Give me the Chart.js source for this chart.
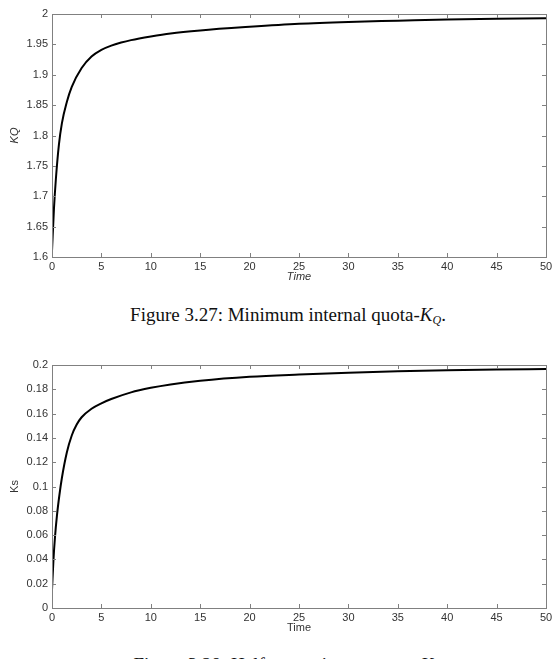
<!DOCTYPE html>
<html>
<head>
<meta charset="utf-8">
<script src="https://cdn.jsdelivr.net/npm/chart.js@4"></script>
<style>
  body { margin: 0; background: #fff; width: 557px; height: 659px; overflow: hidden; position: relative; }
  .box { position: absolute; left: 0; width: 557px; height: 290px; }
  .cap { position: absolute; left: 0; width: 576px; text-align: center;
         font-family: "Liberation Serif", serif; font-size: 19px; color: #111; white-space: nowrap; }
  .cap i { font-style: italic; }
  .cap sub { font-size: 12px; font-style: italic; vertical-align: -3px; }
</style>
</head>
<body>
<div class="box" style="top:0"><canvas id="kq"></canvas></div>
<div class="cap" style="top:304px">Figure 3.27: Minimum internal quota-<i>K</i><sub>Q</sub>.</div>
<div class="box" style="top:351px"><canvas id="ks"></canvas></div>
<div class="cap" style="top:654px">Figure 3.28: Half-saturation constant-<i>K</i><sub>s</sub>.</div>
<script>
// KQ curve
const kqTime = [0, 0.2, 0.4, 0.7, 1, 1.5, 2, 3, 4, 5, 6, 7, 8, 10, 12, 15, 20, 25, 30, 35, 40, 45, 50];
const kqValues = [1.61, 1.68, 1.73, 1.785, 1.82, 1.855, 1.88, 1.911, 1.930, 1.941, 1.948, 1.953, 1.957, 1.963, 1.968, 1.973, 1.979, 1.984, 1.987, 1.989, 1.991, 1.992, 1.993];

// Ks curve
const ksTime = [0, 0.15, 0.3, 0.5, 0.75, 1, 1.5, 2, 2.5, 3, 4, 5, 6, 8, 10, 12, 15, 20, 25, 30, 35, 40, 45, 50];
const ksValues = [0.015, 0.04, 0.058, 0.076, 0.093, 0.107, 0.128, 0.142, 0.151, 0.157, 0.164, 0.1685, 0.172, 0.1775, 0.1812, 0.184, 0.187, 0.1903, 0.1922, 0.1937, 0.1948, 0.1956, 0.1962, 0.1967];

const axisColor = '#808080';
const labelColor = '#333';

// draws the box and the inward (matlab style) tick marks
const boxTicks = {
    id: 'boxTicks',
    afterDraw(chart) {
        const ctx = chart.ctx;
        const a = chart.chartArea;
        const xs = chart.scales.x, ys = chart.scales.y;
        ctx.save();
        ctx.strokeStyle = axisColor;
        ctx.lineWidth = 1;
        ctx.strokeRect(Math.round(a.left) + 0.5, Math.round(a.top) + 0.5,
                       Math.round(a.right - a.left), Math.round(a.bottom - a.top));
        ctx.beginPath();
        xs.ticks.forEach(t => {
            const px = Math.round(xs.getPixelForValue(t.value)) + 0.5;
            ctx.moveTo(px, a.bottom); ctx.lineTo(px, a.bottom - 4);
            ctx.moveTo(px, a.top); ctx.lineTo(px, a.top + 4);
        });
        ys.ticks.forEach(t => {
            const py = Math.round(ys.getPixelForValue(t.value)) + 0.5;
            ctx.moveTo(a.left, py); ctx.lineTo(a.left + 4, py);
            ctx.moveTo(a.right, py); ctx.lineTo(a.right - 4, py);
        });
        ctx.stroke();
        ctx.restore();
    }
};

function fmt(v) {
    return String(Math.round(v * 100) / 100);
}

function makeChart(id, times, values, yMin, yMax, yStep, yTitle, italic) {
    const points = times.map((t, i) => ({ x: t, y: values[i] }));
    return new Chart(document.getElementById(id), {
        type: 'line',
        data: {
            datasets: [{
                data: points,
                borderColor: '#000',
                borderWidth: 2,
                pointRadius: 0,
                fill: false,
                cubicInterpolationMode: 'monotone'
            }]
        },
        options: {
            responsive: true,
            maintainAspectRatio: false,
            animation: false,
            layout: { padding: { top: 14, right: 11, bottom: 5, left: 0 } },
            scales: {
                x: {
                    type: 'linear',
                    min: 0, max: 50,
                    ticks: { stepSize: 5, color: labelColor, padding: 3, maxRotation: 0, autoSkip: false,
                             font: { family: 'Liberation Sans', size: 11 } },
                    grid: { display: false, drawTicks: false },
                    border: { display: false },
                    title: { display: true, text: 'Time', color: labelColor, padding: { top: 0, bottom: 1 },
                             font: { family: 'Liberation Sans', size: 11, style: italic ? 'italic' : 'normal' } },
                    afterFit(s) { s.height = 28; }
                },
                y: {
                    min: yMin, max: yMax,
                    ticks: { stepSize: yStep, color: labelColor, padding: 4, callback: fmt,
                             font: { family: 'Liberation Sans', size: 11 } },
                    grid: { display: false, drawTicks: false },
                    border: { display: false },
                    title: { display: true, text: yTitle, color: labelColor, padding: { top: 8, bottom: 0 },
                             font: { family: 'Liberation Sans', size: 11, style: italic ? 'italic' : 'normal' } },
                    afterFit(s) { s.width = 52; }
                }
            },
            plugins: {
                legend: { display: false },
                tooltip: { enabled: false }
            }
        },
        plugins: [boxTicks]
    });
}

makeChart('kq', kqTime, kqValues, 1.6, 2, 0.05, 'KQ', true);
makeChart('ks', ksTime, ksValues, 0, 0.2, 0.02, 'Ks', false);
</script>
</body>
</html>
